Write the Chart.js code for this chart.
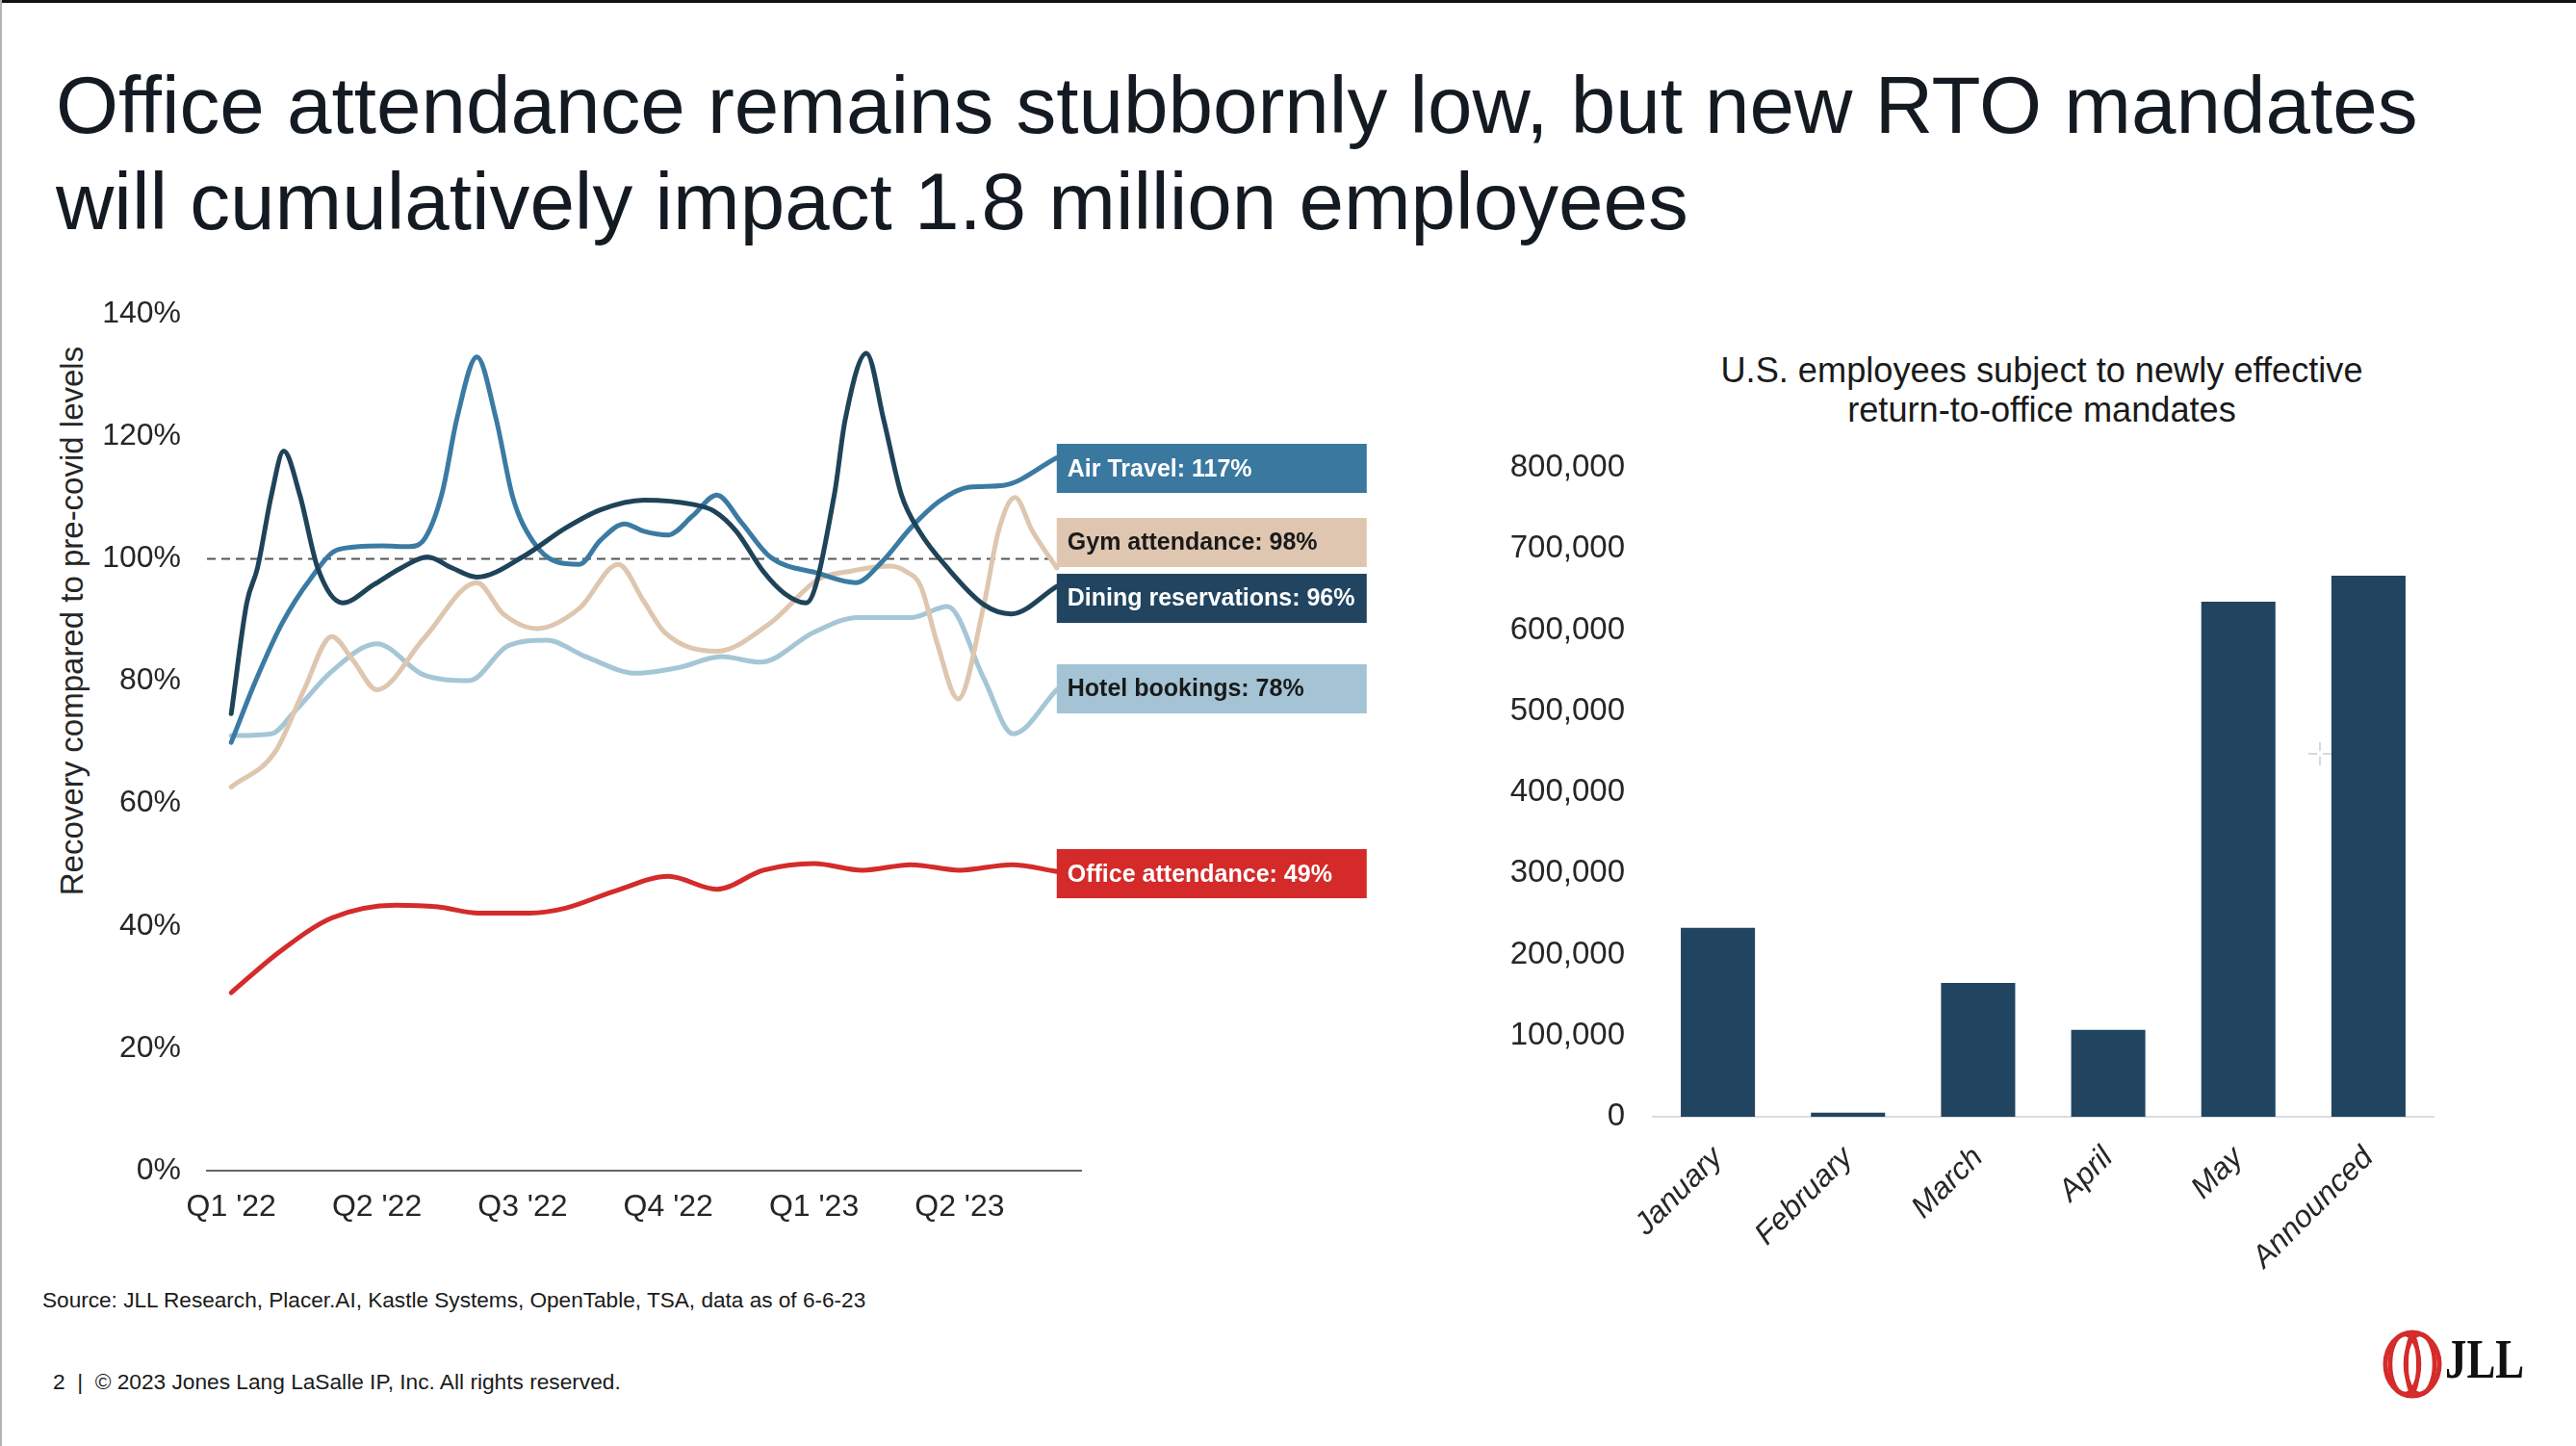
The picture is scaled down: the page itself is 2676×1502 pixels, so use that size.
<!DOCTYPE html>
<html>
<head>
<meta charset="utf-8">
<script src="https://cdn.jsdelivr.net/npm/chart.js@4.4.1/dist/chart.umd.min.js"></script>
<style>
html,body{margin:0;padding:0;background:#fff;}
body{width:2676px;height:1502px;position:relative;overflow:hidden;font-family:"Liberation Sans",Arial,sans-serif;}
.abs{position:absolute;}
#topbar{left:0;top:0;width:2676px;height:3px;background:#111;}
#leftbar{left:0;top:0;width:2px;height:1502px;background:#b4b4b4;}
#title{left:58px;top:59px;font-size:83.6px;line-height:100px;color:#141a22;white-space:nowrap;}
#ytitle{left:-275px;top:625px;width:700px;text-align:center;font-size:33px;line-height:40px;color:#262626;transform:rotate(-90deg);transform-origin:50% 50%;white-space:nowrap;}
#bartitle{left:1721px;top:364px;width:800px;text-align:center;font-size:36.2px;line-height:41px;color:#1a1a1a;}
#source{left:44px;top:1338px;font-size:22.6px;line-height:26px;color:#1a1a1a;white-space:nowrap;}
#footer{left:55px;top:1422px;font-size:22.7px;line-height:26px;color:#1a1a1a;white-space:nowrap;}
#jll{left:2540px;top:1380px;font-family:"Liberation Serif","DejaVu Serif",serif;font-weight:bold;font-size:56px;line-height:64px;color:#111;transform:scaleX(0.8);transform-origin:0 0;}
#rings{left:2474px;top:1381px;}
#cursor{left:2397px;top:770px;}
#lineCanvas{left:0;top:280px;}
#barCanvas{left:1566px;top:333px;}
</style>
</head>
<body>
<div id="topbar" class="abs"></div>
<div id="leftbar" class="abs"></div>
<div id="title" class="abs">Office attendance remains stubbornly low, but new RTO mandates<br>will cumulatively impact 1.8 million employees</div>
<div id="ytitle" class="abs">Recovery compared to pre-covid levels</div>
<div id="bartitle" class="abs">U.S. employees subject to newly effective<br>return-to-office mandates</div>
<div id="source" class="abs">Source: JLL Research, Placer.AI, Kastle Systems, OpenTable, TSA, data as of 6-6-23</div>
<div id="footer" class="abs">2&nbsp; |&nbsp; © 2023 Jones Lang LaSalle IP, Inc. All rights reserved.</div>
<svg id="rings" class="abs" width="66" height="72" viewBox="0 0 66 72">
  <ellipse cx="32" cy="36" rx="28" ry="33" fill="none" stroke="#d42b2b" stroke-width="5"/>
  <ellipse cx="24" cy="36" rx="15" ry="31" fill="none" stroke="#d42b2b" stroke-width="4.5"/>
  <ellipse cx="40" cy="36" rx="15" ry="31" fill="none" stroke="#d42b2b" stroke-width="4.5"/>
  <ellipse cx="32" cy="36" rx="6" ry="29" fill="none" stroke="#d42b2b" stroke-width="4"/>
</svg>
<div id="jll" class="abs">JLL</div>
<canvas id="lineCanvas" class="abs" width="1440" height="1020"></canvas>
<canvas id="barCanvas" class="abs" width="1110" height="1070"></canvas>
<svg id="cursor" class="abs" width="26" height="26" viewBox="0 0 26 26">
  <path d="M13 1 V10 M13 16 V25 M1 13 H10 M16 13 H25" stroke="#c9ced3" stroke-width="1.5" fill="none"/>
</svg>
<script>
// ---------- Data: left chart (x = months since Jan 2022) ----------
const quarterTicks = [0, 3, 6, 9, 12, 15];
const quarterLabels = ["Q1 '22", "Q2 '22", "Q3 '22", "Q4 '22", "Q1 '23", "Q2 '23"];
const yTicksPct = [0, 20, 40, 60, 80, 100, 120, 140];

const airTravel = [[0,70],[0.5,80],[1.05,89.5],[1.63,96.7],[2.2,101.5],[3.1,102.1],[3.67,102],[4.0,103.5],[4.35,111],[4.65,123],[5.06,133],[5.45,123],[5.8,110],[6.2,103],[6.7,99.5],[7.17,99.1],[7.6,103],[8.1,105.7],[8.5,104.5],[9.0,103.9],[9.5,107],[10.0,110.4],[10.5,106],[11.1,100.3],[12.1,97.6],[12.86,96.1],[13.4,99.5],[14.0,105.1],[14.6,109.5],[15.2,111.7],[15.9,112],[17,116.5]];
const diningReservations = [[0,74.7],[0.32,92.8],[0.54,98.5],[0.83,110.5],[1.08,117.6],[1.41,110.5],[1.78,98.5],[2.29,92.8],[2.94,95.8],[3.5,98.5],[4.04,100.3],[4.55,98.5],[5.06,97],[6.0,100.3],[6.88,105],[7.6,108],[8.5,109.6],[9.5,108.9],[9.94,107.8],[10.4,104.5],[10.96,97.9],[11.4,94.3],[11.84,92.8],[12.42,110.5],[12.64,122.6],[13.08,133.6],[13.44,122.6],[13.8,110.5],[14.17,104.5],[14.75,98.5],[15.5,92.5],[16.06,91],[17,95.5]];
const gymAttendance = [[0,62.7],[0.9,68.4],[1.5,78.6],[2.07,87.3],[2.5,83.5],[3.0,78.6],[3.97,87],[5.06,96.1],[5.6,91],[6.3,88.6],[7.17,91.9],[7.97,99.1],[8.5,93],[8.92,88],[10.0,84.9],[11.1,89.5],[12.1,96.7],[12.7,97.9],[13.57,98.8],[13.9,97.9],[14.2,95.5],[14.53,86.4],[14.97,77.1],[15.5,92.5],[15.8,104.5],[16.14,110],[16.5,104.5],[17,98.5]];
const hotelBookings = [[0,71.1],[0.83,71.4],[1.3,75],[2.07,81.6],[3.0,86.1],[3.97,81],[4.9,80.1],[5.7,85.8],[6.5,86.7],[7.3,84],[8.34,81.3],[9.2,82.2],[10.1,84],[10.9,83.1],[12.0,88],[12.9,90.4],[14.0,90.4],[14.75,92.2],[15.5,80.4],[16.1,71.4],[17,78.6]];
const officeAttendance = [[0,29.1],[1.0,35.8],[2.07,41.3],[3.4,43.4],[4.26,43.1],[5.1,42.1],[6.15,42.1],[6.88,42.9],[7.9,45.7],[9.0,48.1],[10.0,46],[10.96,49.1],[12.0,50.2],[13.0,49.1],[14.0,50],[15.0,49.1],[16.07,50],[17,48.9]];
const baselineLevel = 100;

const seriesLabels = ["Air Travel: 117%", "Gym attendance: 98%", "Dining reservations: 96%", "Hotel bookings: 78%", "Office attendance: 49%"];

// ---------- Data: right chart ----------
const months = ["January", "February", "March", "April", "May", "Announced"];
const employees = [233000, 5000, 165000, 107000, 635000, 667000];

// ---------- Styles ----------
const FONT = '"Liberation Sans", Arial, sans-serif';
const TICK_COLOR = '#262626';
const colors = {
  air: '#3b7ba3', airBox: '#3a78a0',
  gym: '#dec6af', gymBox: '#dfc6b0',
  dining: '#1f4359', diningBox: '#214560',
  hotel: '#a5c6d6', hotelBox: '#a4c4d5',
  office: '#d42b2b', officeBox: '#d42a2a',
  bar: '#214560'
};
const boxCenters = [114.7, 102.7, 93.6, 78.8, 48.5]; // label box vertical anchors (axis units)
const boxStyles = [
  {bg: colors.airBox, fg: '#ffffff'},
  {bg: colors.gymBox, fg: '#1a1a1a'},
  {bg: colors.diningBox, fg: '#ffffff'},
  {bg: colors.hotelBox, fg: '#1a1a1a'},
  {bg: colors.officeBox, fg: '#ffffff'}
];

function lineDs(name, pts, color, order) {
  return {
    label: name,
    data: pts.map(p => ({x: p[0], y: p[1]})),
    borderColor: color,
    borderWidth: 5,
    pointRadius: 0,
    cubicInterpolationMode: 'monotone',
    borderCapStyle: 'round',
    borderJoinStyle: 'round',
    fill: false,
    order: order
  };
}

const lastX = airTravel[airTravel.length - 1][0];

const labelBoxPlugin = {
  id: 'labelBoxes',
  afterDatasetsDraw(chart) {
    const {ctx, scales: {x, y}} = chart;
    const x0 = x.getPixelForValue(lastX);
    const w = 322, h = 51;
    ctx.save();
    seriesLabels.forEach((txt, i) => {
      const yc = y.getPixelForValue(boxCenters[i]);
      ctx.fillStyle = boxStyles[i].bg;
      ctx.fillRect(x0, Math.round(yc - h / 2), w, h);
      ctx.fillStyle = boxStyles[i].fg;
      ctx.font = 'bold 25px ' + FONT;
      ctx.textBaseline = 'middle';
      ctx.textAlign = 'left';
      ctx.fillText(txt, x0 + 11, yc + 1);
    });
    ctx.restore();
  }
};

new Chart(document.getElementById('lineCanvas'), {
  type: 'line',
  data: {
    datasets: [
      {
        label: 'Pre-covid level',
        data: [{x: -0.5, y: baselineLevel}, {x: lastX, y: baselineLevel}],
        borderColor: '#555555',
        borderWidth: 2,
        borderDash: [9, 6],
        pointRadius: 0,
        fill: false,
        order: 10
      },
      lineDs('Office attendance', officeAttendance, colors.office, 5),
      lineDs('Hotel bookings', hotelBookings, colors.hotel, 4),
      lineDs('Gym attendance', gymAttendance, colors.gym, 3),
      lineDs('Air Travel', airTravel, colors.air, 2),
      lineDs('Dining reservations', diningReservations, colors.dining, 1)
    ]
  },
  options: {
    responsive: false,
    animation: false,
    devicePixelRatio: 1,
    layout: {padding: {left: 0, top: 42, right: 317, bottom: 0}},
    plugins: {legend: {display: false}, tooltip: {enabled: false}},
    scales: {
      x: {
        type: 'linear',
        min: -0.5,
        max: 17.5,
        grid: {display: false, drawTicks: false},
        border: {display: true, color: '#666666', width: 2},
        afterBuildTicks: s => { s.ticks = quarterTicks.map(v => ({value: v})); },
        afterFit: s => { s.height = 84; },
        ticks: {
          autoSkip: false,
          maxRotation: 0,
          padding: 19,
          color: TICK_COLOR,
          font: {family: FONT, size: 32},
          callback: v => quarterLabels[quarterTicks.indexOf(v)]
        }
      },
      y: {
        min: 0,
        max: 140,
        grid: {display: false, drawTicks: false},
        border: {display: false},
        afterBuildTicks: s => { s.ticks = yTicksPct.map(v => ({value: v})); },
        afterFit: s => { s.width = 215; },
        ticks: {
          padding: 27,
          color: TICK_COLOR,
          font: {family: FONT, size: 32},
          callback: v => v + '%'
        }
      }
    }
  },
  plugins: [labelBoxPlugin]
});

new Chart(document.getElementById('barCanvas'), {
  type: 'bar',
  data: {
    labels: months,
    datasets: [{
      label: 'Employees',
      data: employees,
      backgroundColor: colors.bar,
      categoryPercentage: 1,
      barPercentage: 0.57
    }]
  },
  options: {
    responsive: false,
    animation: false,
    devicePixelRatio: 1,
    layout: {padding: {left: 0, top: 153, right: 148, bottom: 0}},
    plugins: {legend: {display: false}, tooltip: {enabled: false}},
    scales: {
      x: {
        grid: {display: false, drawTicks: false},
        border: {display: true, color: '#d9dde3', width: 2},
        afterFit: s => { s.height = 243; },
        ticks: {
          minRotation: 45,
          maxRotation: 45,
          autoSkip: false,
          padding: 24,
          color: TICK_COLOR,
          font: {family: FONT, size: 32, style: 'italic'}
        }
      },
      y: {
        min: 0,
        max: 800000,
        grid: {display: false, drawTicks: false},
        border: {display: false},
        afterFit: s => { s.width = 151; },
        ticks: {
          stepSize: 100000,
          padding: 29,
          color: TICK_COLOR,
          font: {family: FONT, size: 33},
          callback: v => v.toLocaleString('en-US')
        }
      }
    }
  }
});
</script>
</body>
</html>
